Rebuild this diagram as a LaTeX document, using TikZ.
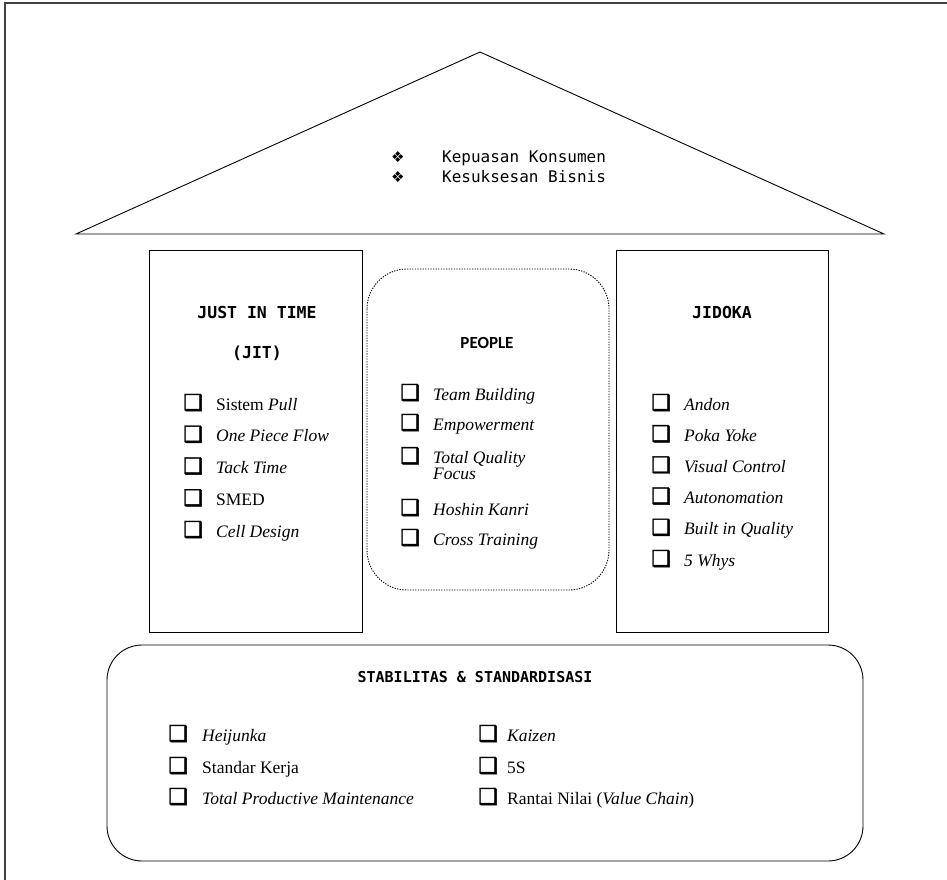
\documentclass[tikz,border=0pt]{standalone}
\usepackage{fontspec}
\setmainfont{Liberation Serif}
\newfontfamily\kodefont{DejaVu Sans Mono}
\newfontfamily\judulfont{Carlito}
\newfontfamily\simbolfont{DejaVu Sans}
\newfontfamily\kotakfont[FakeBold=2]{DejaVu Sans}
% kotak centang dan bintang untuk daftar
\newcommand\kotak{{\kotakfont\fontsize{22}{22}\selectfont ❑}}
\newcommand\bintang{{\simbolfont\fontsize{15}{15}\selectfont ❖}}
\newcommand\butir[2][33pt]{\makebox[#1][l]{\kotak}#2}

\tikzset{
	item/.style={anchor=base west,inner sep=0pt,align=left,font=\fontsize{17.5}{16}\selectfont},
	judul/.style={anchor=base,inner sep=0pt,font=\kodefont\bfseries\fontsize{16.5}{18}\selectfont},
	atap/.style={anchor=base west,inner sep=0pt,font=\kodefont\fontsize{16}{18}\selectfont},
	garis/.style={line width=0.9pt},
}

\begin{document}
\begin{tikzpicture}[x=1pt,y=-1pt]
		\useasboundingbox(0,0) rectangle (947,880);
		% bingkai
		\draw[line width=1.3pt,black!75](5,880)--(5,3)--(947,3);
		% atap
		\draw[garis](76,234)--(480,52)--(884,234)--cycle;
		\node[atap] (b1) at(391,162){\bintang};
		\node[atap] (b2) at(391,182){\bintang};
		\node[atap] (t1) at(442,162){Kepuasan Konsumen};
		\node[atap] (t2) at(442,182){Kesuksesan Bisnis};
		% tiang kiri: JIT
		\draw[garis](149,250) rectangle (362,632);
		\node[judul] (jit) at(257,318){JUST IN TIME};
		\node[judul] (jitb) at(257,358){(JIT)};
		\foreach \t [count=\i] in {Sistem \textit{Pull},\textit{One Piece Flow},\textit{Tack Time},SMED,\textit{Cell Design}}
			\node[item] (jit\i) at(183,410+31.75*\i-31.75){\butir{\t}};
		% tengah: people
		\draw[garis,dash pattern=on 1.3pt off 1.3pt,rounded corners=40pt](367,269) rectangle (609,590);
		\node[anchor=base,inner sep=0pt,font=\judulfont\bfseries\fontsize{17}{18}\selectfont] (ppl) at(487,348){PEOPLE};
		\node[item] (ppl1) at(400,400){\butir{\textit{Team Building}}};
		\node[item] (ppl2) at(400,430){\butir{\textit{Empowerment}}};
		\node[item,anchor=north west] (ppl3) at(400,447){\butir{\textit{Total Quality}}\\\hspace*{33pt}\textit{Focus}};
		\node[item] (ppl4) at(400,515){\butir{\textit{Hoshin Kanri}}};
		\node[item] (ppl5) at(400,545){\butir{\textit{Cross Training}}};
		% tiang kanan: jidoka
		\draw[garis](616,250) rectangle (828,632);
		\node[judul] (jdk) at(722,318){JIDOKA};
		\foreach \t [count=\i] in {Andon,Poka Yoke,Visual Control,Autonomation,Built in Quality,5 Whys}
			\node[item] (jdk\i) at(651,410+31.2*\i-31.2){\butir{\textit{\t}}};
		% fondasi
		\draw[garis,rounded corners=35pt](107,645) rectangle (863,861);
		\node[judul,font=\kodefont\bfseries\fontsize{15}{18}\selectfont] (stb) at(475,682){STABILITAS \& STANDARDISASI};
		\node[item] (s1) at(168,741){\butir[34pt]{\textit{Heijunka}}};
		\node[item] (s2) at(168,773){\butir[34pt]{Standar Kerja}};
		\node[item] (s3) at(168,804){\butir[34pt]{\textit{Total Productive Maintenance}}};
		\node[item] (s4) at(478,741){\butir[29pt]{\textit{Kaizen}}};
		\node[item] (s5) at(478,773){\butir[29pt]{5S}};
		\node[item] (s6) at(478,804){\butir[29pt]{Rantai Nilai (\textit{Value Chain})}};
	\end{tikzpicture}
\end{document}
